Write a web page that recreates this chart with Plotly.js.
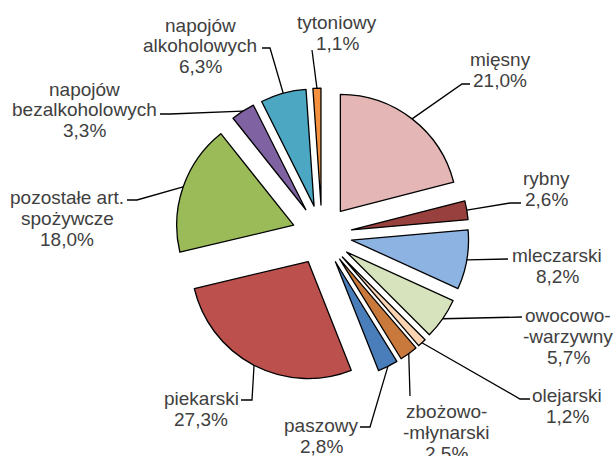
<!DOCTYPE html>
<html>
<head>
<meta charset="utf-8">
<script src="https://cdn.plot.ly/plotly-3.0.1.min.js"></script>
<style>html,body{margin:0;padding:0;background:#fff;}#chart{width:614px;height:456px;}</style>
</head>
<body>
<div id="chart"></div>
<script>
// ---- data ----
const categories = [
  "mięsny", "rybny", "mleczarski", "owocowo-\n-warzywny", "olejarski",
  "zbożowo-\n-młynarski", "paszowy", "piekarski", "pozostałe art.\nspożywcze",
  "napojów\nbezalkoholowych", "napojów\nalkoholowych", "tytoniowy"
];
const shares = [21.0, 2.6, 8.2, 5.7, 1.2, 2.5, 2.8, 27.3, 18.0, 3.3, 6.3, 1.1];
const sliceColors = [
  "#E4B6B5", "#98403D", "#8DB3E2", "#D6E3BC", "#FBD4B4",
  "#C8793B", "#4A7EBB", "#BC504D", "#9BBB59", "#7F62A1", "#4BA7C2", "#F4913F"
];

// ---- layout constants (pixels) ----
const W = 614, H = 456;
const CX = 322, CY = 235, R = 117, PULL = 0.256;
const FONT = {family: "Liberation Sans, Arial, sans-serif", size: 19, color: "#404040"};
const LINE_H = 21;
// label placement: [centerX, firstLineY, [leader points from label side...]]
const labelPlace = [
  [500, 59,  [[470, 84], [462, 84]]],
  [546, 178, [[521, 203], [510, 203]]],
  [557, 255, [[508, 259]]],
  [568, 315, [[522, 317]]],
  [567, 395, [[530, 399], [520, 399]]],
  [446, 411, [[410, 396]]],
  [321, 425, [[360, 427], [370, 427]]],
  [201, 398, [[241, 400], [252, 400]]],
  [67,  197, [[127, 200], [137, 200]]],
  [84,  89,  [[160, 114], [170, 114]]],
  [200, 25,  [[262, 48], [270, 48]]],
  [337, 23,  [[312, 50]]]
];

const px = x => x / W;
const py = y => 1 - y / H;

const half = R * (1 + PULL);
const trace = {
  type: "pie",
  values: shares,
  labels: categories.map(c => c.replace("\n", " ")),
  sort: false,
  direction: "clockwise",
  rotation: 0,
  pull: shares.map(() => PULL),
  marker: {colors: sliceColors, line: {color: "#000000", width: 1.3}},
  textinfo: "none",
  hoverinfo: "skip",
  showlegend: false,
  domain: {
    x: [px(CX - half), px(CX + half)],
    y: [py(CY + half), py(CY - half)]
  }
};

const total = shares.reduce((a, b) => a + b, 0);
const annotations = [];
const shapes = [];
let cum = 0;
shares.forEach((v, i) => {
  const a0 = cum / total * 2 * Math.PI;
  cum += v;
  const a1 = cum / total * 2 * Math.PI;
  const mid = (a0 + a1) / 2;
  const ax = CX + half * Math.sin(mid);
  const ay = CY - half * Math.cos(mid);
  const [lx, ly, pts] = labelPlace[i];
  const lines = categories[i].split("\n").concat([v.toFixed(1).replace(".", ",") + "%"]);
  lines.forEach((t, k) => {
    annotations.push({
      xref: "paper", yref: "paper", x: px(lx), y: py(ly + k * LINE_H),
      xanchor: "center", yanchor: "middle", showarrow: false,
      text: t, font: FONT
    });
  });
  const all = pts.concat([[ax, ay]]);
  let d = "M " + px(all[0][0]) + " " + py(all[0][1]);
  for (let k = 1; k < all.length; k++) d += " L " + px(all[k][0]) + " " + py(all[k][1]);
  shapes.push({type: "path", xref: "paper", yref: "paper", path: d,
    line: {color: "#000000", width: 1.3}});
});

const layout = {
  width: W, height: H,
  margin: {l: 0, r: 0, t: 0, b: 0},
  paper_bgcolor: "#ffffff",
  plot_bgcolor: "#ffffff",
  showlegend: false,
  annotations: annotations,
  shapes: shapes
};

Plotly.newPlot("chart", [trace], layout, {displayModeBar: false, staticPlot: true});
</script>
</body>
</html>
